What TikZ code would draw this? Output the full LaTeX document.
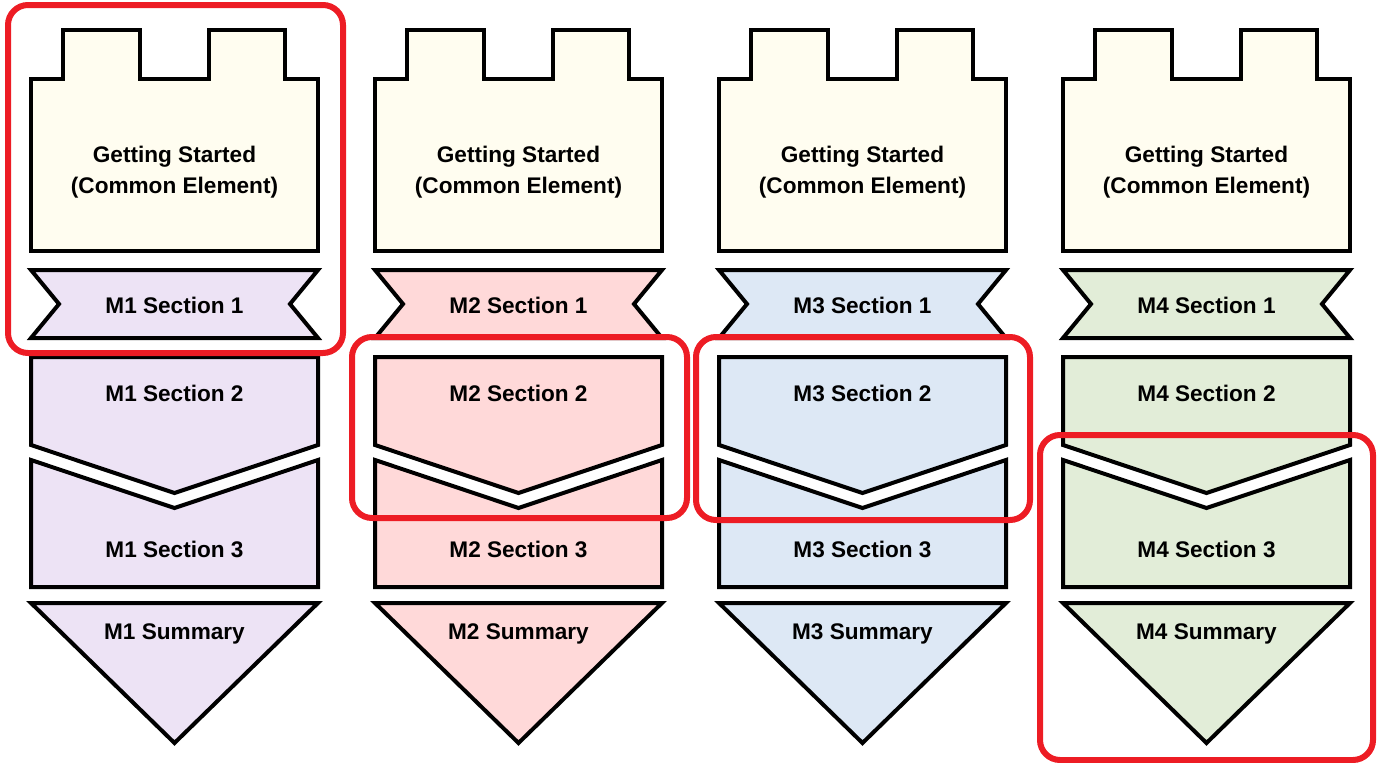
\documentclass[tikz,border=0pt]{standalone}
\usepackage{fontspec}
\setmainfont{Liberation Sans}
\definecolor{startfill}{HTML}{FFFDF0}
\definecolor{mpurple}{HTML}{EDE3F5}
\definecolor{mpink}{HTML}{FFD9D9}
\definecolor{mblue}{HTML}{DDE8F5}
\definecolor{mgreen}{HTML}{E2EDD8}
\definecolor{focusred}{HTML}{ED1C24}
\tikzstyle{block}=[draw=black, line width=4pt, line join=miter]
\tikzstyle{label}=[font=\bfseries\fontsize{22.6}{31}\selectfont, align=center, inner sep=0pt]
\tikzstyle{focus}=[draw=focusred, line width=6pt, rounded corners=20pt]

\begin{document}
\begin{tikzpicture}[x=1pt, y=-1pt]
                \useasboundingbox (0,0) rectangle (1377,763);
                % column 1
                \begin{scope}[xshift=31pt]
                \draw [block, fill=startfill] (0,79) -- (32,79) -- (32,30) -- (109,30) -- (109,79) -- (178,79) -- (178,30) -- (254,30) -- (254,79) -- (287,79) -- (287,251) -- (0,251) -- cycle;
                \draw [block, fill=mpurple] (0,270) -- (287,270) -- (259,304) -- (287,338) -- (0,338) -- (28,304) -- cycle;
                \draw [block, fill=mpurple] (0,357) -- (287,357) -- (287,445) -- (143.5,493) -- (0,445) -- cycle;
                \draw [block, fill=mpurple] (0,460) -- (143.5,508) -- (287,460) -- (287,587) -- (0,587) -- cycle;
                \draw [block, fill=mpurple] (0,603) -- (287,603) -- (143.5,743) -- cycle;
                \node [style=label] (gs1) at (143.5,172) {Getting Started\\(Common Element)};
                \node [style=label] (m1s1) at (143.5,305) {M1 Section 1};
                \node [style=label] (m1s2) at (143.5,393) {M1 Section 2};
                \node [style=label] (m1s3) at (143.5,549) {M1 Section 3};
                \node [style=label] (m1sum) at (143.5,634) {M1 Summary};
                \end{scope}
                % column 2
                \begin{scope}[xshift=375pt]
                \draw [block, fill=startfill] (0,79) -- (32,79) -- (32,30) -- (109,30) -- (109,79) -- (178,79) -- (178,30) -- (254,30) -- (254,79) -- (287,79) -- (287,251) -- (0,251) -- cycle;
                \draw [block, fill=mpink] (0,270) -- (287,270) -- (259,304) -- (287,338) -- (0,338) -- (28,304) -- cycle;
                \draw [block, fill=mpink] (0,357) -- (287,357) -- (287,445) -- (143.5,493) -- (0,445) -- cycle;
                \draw [block, fill=mpink] (0,460) -- (143.5,508) -- (287,460) -- (287,587) -- (0,587) -- cycle;
                \draw [block, fill=mpink] (0,603) -- (287,603) -- (143.5,743) -- cycle;
                \node [style=label] (gs2) at (143.5,172) {Getting Started\\(Common Element)};
                \node [style=label] (m2s1) at (143.5,305) {M2 Section 1};
                \node [style=label] (m2s2) at (143.5,393) {M2 Section 2};
                \node [style=label] (m2s3) at (143.5,549) {M2 Section 3};
                \node [style=label] (m2sum) at (143.5,634) {M2 Summary};
                \end{scope}
                % column 3
                \begin{scope}[xshift=719pt]
                \draw [block, fill=startfill] (0,79) -- (32,79) -- (32,30) -- (109,30) -- (109,79) -- (178,79) -- (178,30) -- (254,30) -- (254,79) -- (287,79) -- (287,251) -- (0,251) -- cycle;
                \draw [block, fill=mblue] (0,270) -- (287,270) -- (259,304) -- (287,338) -- (0,338) -- (28,304) -- cycle;
                \draw [block, fill=mblue] (0,357) -- (287,357) -- (287,445) -- (143.5,493) -- (0,445) -- cycle;
                \draw [block, fill=mblue] (0,460) -- (143.5,508) -- (287,460) -- (287,587) -- (0,587) -- cycle;
                \draw [block, fill=mblue] (0,603) -- (287,603) -- (143.5,743) -- cycle;
                \node [style=label] (gs3) at (143.5,172) {Getting Started\\(Common Element)};
                \node [style=label] (m3s1) at (143.5,305) {M3 Section 1};
                \node [style=label] (m3s2) at (143.5,393) {M3 Section 2};
                \node [style=label] (m3s3) at (143.5,549) {M3 Section 3};
                \node [style=label] (m3sum) at (143.5,634) {M3 Summary};
                \end{scope}
                % column 4
                \begin{scope}[xshift=1063pt]
                \draw [block, fill=startfill] (0,79) -- (32,79) -- (32,30) -- (109,30) -- (109,79) -- (178,79) -- (178,30) -- (254,30) -- (254,79) -- (287,79) -- (287,251) -- (0,251) -- cycle;
                \draw [block, fill=mgreen] (0,270) -- (287,270) -- (259,304) -- (287,338) -- (0,338) -- (28,304) -- cycle;
                \draw [block, fill=mgreen] (0,357) -- (287,357) -- (287,445) -- (143.5,493) -- (0,445) -- cycle;
                \draw [block, fill=mgreen] (0,460) -- (143.5,508) -- (287,460) -- (287,587) -- (0,587) -- cycle;
                \draw [block, fill=mgreen] (0,603) -- (287,603) -- (143.5,743) -- cycle;
                \node [style=label] (gs4) at (143.5,172) {Getting Started\\(Common Element)};
                \node [style=label] (m4s1) at (143.5,305) {M4 Section 1};
                \node [style=label] (m4s2) at (143.5,393) {M4 Section 2};
                \node [style=label] (m4s3) at (143.5,549) {M4 Section 3};
                \node [style=label] (m4sum) at (143.5,634) {M4 Summary};
                \end{scope}
                % highlighted parts
                \draw [focus] (8,5) rectangle (343,353);
                \draw [focus] (352,337) rectangle (687,518);
                \draw [focus] (696,337) rectangle (1030,520);
                \draw [focus] (1040,435) rectangle (1373,760);
\end{tikzpicture}
\end{document}
